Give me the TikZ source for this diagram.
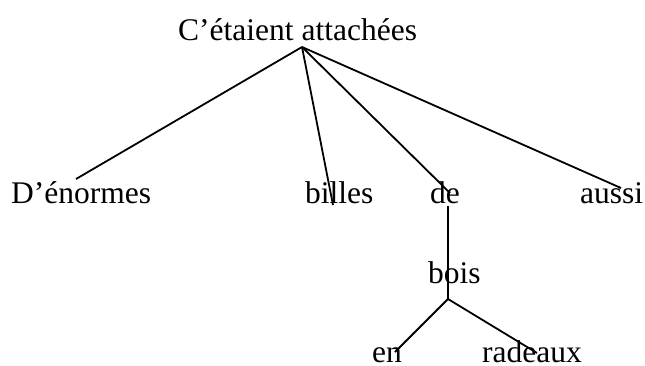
\documentclass[tikz,border=0pt]{standalone}
\usepackage{fontspec}
\setmainfont{Liberation Serif}
\begin{document}
\begin{tikzpicture}[x=1pt,y=-1pt,
    word/.style={anchor=base west,inner sep=0pt,font=\fontsize{31.5}{36}\selectfont},
    branch/.style={line width=1.8pt}]
                \useasboundingbox (0,0) rectangle (645,365);
                \node[word] (root) at (178,40) {C’étaient attachées};
                \node[word] (enormes) at (11,203) {D’énormes};
                \node[word] (billes) at (305,203) {billes};
                \node[word] (de) at (430,203) {de};
                \node[word] (aussi) at (580,203) {aussi};
                \node[word] (bois) at (428,283) {bois};
                \node[word] (en) at (372,362) {en};
                \node[word] (radeaux) at (482,362) {radeaux};

                \coordinate (A) at (302, 47);
                \coordinate (B) at (448, 299);
                \coordinate (E1) at (76, 179);
                \coordinate (E2) at (333, 205);
                \coordinate (E3) at (450, 193);
                \coordinate (E4) at (621, 188);
                \coordinate (D) at (448, 206);
                \coordinate (F1) at (395, 352);
                \coordinate (F2) at (537, 353);

                \draw[branch] (A) -- (E1);
                \draw[branch] (A) -- (E2);
                \draw[branch] (A) -- (E3);
                \draw[branch] (A) -- (E4);
                \draw[branch] (D) -- (B);
                \draw[branch] (B) -- (F1);
                \draw[branch] (B) -- (F2);
            \end{tikzpicture}
\end{document}
